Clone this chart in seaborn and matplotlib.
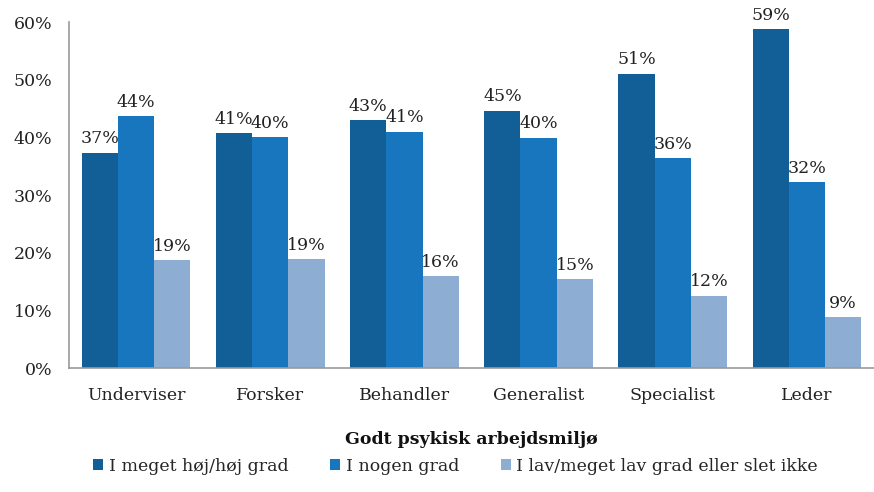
import matplotlib
matplotlib.use("Agg")
import matplotlib.pyplot as plt
import seaborn as sns
import pandas as pd
from matplotlib.ticker import PercentFormatter

categories = ["Underviser", "Forsker", "Behandler", "Generalist", "Specialist", "Leder"]
series_names = ["I meget høj/høj grad", "I nogen grad", "I lav/meget lav grad eller slet ikke"]
high = [37.3, 40.7, 43.0, 44.6, 51.0, 58.8]
some = [43.7, 40.0, 41.0, 39.9, 36.4, 32.2]
low = [18.7, 18.9, 15.9, 15.4, 12.5, 8.8]
yticks = [0, 10, 20, 30, 40, 50, 60]

rows = []
for name, vals in zip(series_names, [high, some, low]):
    for c, v in zip(categories, vals):
        rows.append({"cat": c, "series": name, "value": v})
df = pd.DataFrame(rows)

sns.set_style("white")
plt.rcParams["font.family"] = ["DejaVu Serif"]

colors = ["#125f97", "#1876be", "#8dadd3"]
fig = plt.figure(figsize=(8.74, 4.92), dpi=100)
ax = fig.add_axes([0.079, 0.252, 0.921, 0.703])
sns.barplot(data=df, x="cat", y="value", hue="series", palette=colors,
            order=categories, hue_order=series_names, width=0.81,
            saturation=1, linewidth=0, ax=ax, legend=True)

for cont in ax.containers:
    ax.bar_label(cont, labels=[f"{round(b.get_height()):.0f}%" for b in cont],
                 padding=4, fontsize=12.5, color="#222222")

ax.set_ylim(0, 60)
ax.set_yticks(yticks)
ax.yaxis.set_major_formatter(PercentFormatter(decimals=0))
ax.set_xlim(-0.5, 5.5)
ax.tick_params(axis="both", labelsize=12.5, length=0, colors="#222222")
ax.tick_params(axis="x", pad=14)
ax.tick_params(axis="y", pad=12)
for s in ["top", "right"]:
    ax.spines[s].set_visible(False)
for s in ["left", "bottom"]:
    ax.spines[s].set_color("#999999")
    ax.spines[s].set_linewidth(1.2)
ax.set_ylabel("")
ax.set_xlabel("Godt psykisk arbejdsmiljø", fontsize=12.5, fontweight="bold",
              color="#111111", labelpad=19)

handles, labels = ax.get_legend_handles_labels()
ax.legend(handles, labels, loc="upper center", bbox_to_anchor=(0.48, -0.215),
          ncol=3, frameon=False, fontsize=12.5, handlelength=0.6, handleheight=0.6,
          handletextpad=0.3, columnspacing=2.4)

fig.savefig("out.png", dpi=100, facecolor="white")
